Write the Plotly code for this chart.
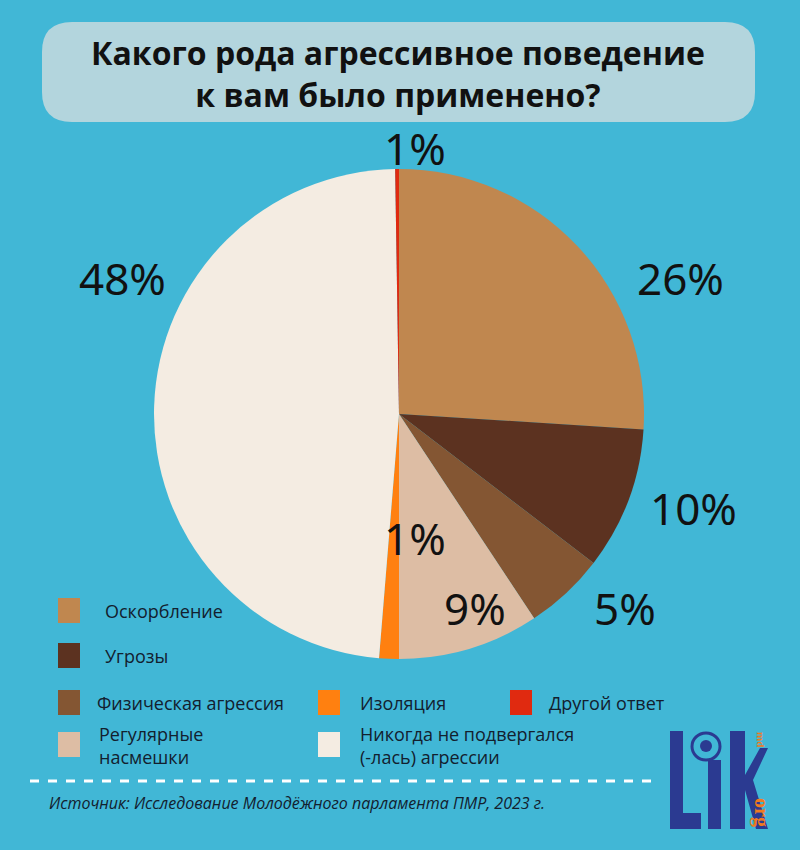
import plotly.graph_objects as go

# ---- data ----
categories = ["Оскорбление", "Угрозы", "Физическая агрессия", "Регулярные насмешки",
              "Изоляция", "Никогда не подвергался (-лась) агрессии", "Другой ответ"]
values = [26.0, 9.4, 5.3, 9.3, 1.3, 48.45, 0.25]
pct_labels = ["26%", "10%", "5%", "9%", "1%", "48%", "1%"]
colors = ["#C0874F", "#5C3220", "#845633", "#DDBDA4", "#FF8010", "#F4ECE2", "#E02A10"]

legend_texts = ["Оскорбление", "Угрозы", "Физическая агрессия", "Регулярные<br>насмешки",
                "Изоляция", "Никогда не подвергался<br>(-лась) агрессии", "Другой ответ"]

W, H = 800, 850
BG = "#41B7D6"

def px(x, y):
    return x / W, 1 - y / H

fig = go.Figure()
cx, cy, r = 399, 414, 245
x0, y1 = px(cx - r, cy - r)
x1, y0 = px(cx + r, cy + r)
fig.add_trace(go.Pie(
    labels=categories, values=values, sort=False, direction="clockwise", rotation=0,
    marker=dict(colors=colors, line=dict(width=0)),
    textinfo="none", hoverinfo="label+percent", showlegend=False,
    domain=dict(x=[x0, x1], y=[y0, y1]),
))

shapes = []
annotations = []

def P(x, y):
    a, b = px(x, y)
    return f"{a:.5f},{b:.5f}"

def rect(xa, ya, xb, yb, col):
    a0, b1 = px(xa, ya)
    a1, b0 = px(xb, yb)
    shapes.append(dict(type="rect", xref="paper", yref="paper", x0=a0, x1=a1, y0=b0, y1=b1,
                       fillcolor=col, line=dict(width=0)))

# title box (rounded)
bx0, bx1, by0, by1, rad = 42, 755, 22, 122, 30
path = (f"M {P(bx0+rad, by0)} L {P(bx1-rad, by0)} Q {P(bx1, by0)} {P(bx1, by0+rad)} "
        f"L {P(bx1, by1-rad)} Q {P(bx1, by1)} {P(bx1-rad, by1)} "
        f"L {P(bx0+rad, by1)} Q {P(bx0, by1)} {P(bx0, by1-rad)} "
        f"L {P(bx0, by0+rad)} Q {P(bx0, by0)} {P(bx0+rad, by0)} Z")
shapes.append(dict(type="path", xref="paper", yref="paper", path=path,
                   fillcolor="#B3D5DD", line=dict(width=0), layer="below"))
tx, ty = px(398, 74)
annotations.append(dict(x=tx, y=ty, xref="paper", yref="paper", showarrow=False,
                        text="<b>Какого рода агрессивное поведение<br>к вам было применено?</b>",
                        font=dict(family="Open Sans", size=32, color="#111111"),
                        align="center", xanchor="center", yanchor="middle"))

# percent labels
label_pos = [(680, 278), (693, 508), (625, 608), (475, 608), (415, 538), (122, 278), (415, 148)]
for lab, (lx, ly) in zip(pct_labels, label_pos):
    ax_, ay_ = px(lx, ly)
    annotations.append(dict(x=ax_, y=ay_, xref="paper", yref="paper", showarrow=False,
                            text=lab, font=dict(family="Noto Sans", size=44, color="#111111"),
                            xanchor="center", yanchor="middle"))

# custom legend
leg_pos = [(58, 610, 103), (58, 655, 103), (58, 702, 95), (58, 744, 97),
           (318, 702, 358), (318, 744, 358), (510, 702, 547)]
for txt, col, (sx, sy, tx_) in zip(legend_texts, colors, leg_pos):
    rect(sx, sy - 12, sx + 22, sy + 13, col)
    lx_, ly_ = px(tx_, sy + 1)
    annotations.append(dict(x=lx_, y=ly_, xref="paper", yref="paper", showarrow=False,
                            text=txt, font=dict(family="Open Sans", size=18, color="#13202E"),
                            align="left", xanchor="left", yanchor="middle"))

# dashed separator
d0x, d0y = px(30, 781)
d1x, _ = px(652, 781)
shapes.append(dict(type="line", xref="paper", yref="paper", x0=d0x, x1=d1x, y0=d0y, y1=d0y,
                   line=dict(color="white", width=3, dash="dash")))

sx_, sy_ = px(47, 803)
annotations.append(dict(x=sx_, y=sy_, xref="paper", yref="paper", showarrow=False,
                        text="<i>Источник: Исследование Молодёжного парламента ПМР, 2023 г.</i>",
                        font=dict(family="Open Sans", size=16, color="#13202E"),
                        xanchor="left", yanchor="middle"))

# logo (decorative, drawn with shapes)
LB = "#2B3A91"
OR = "#F07A20"
rect(670, 731, 683, 829, LB)        # L stem
rect(670, 813, 701, 829, LB)        # L foot
rect(708, 760, 721, 829, LB)        # i stem
rect(730, 731, 745, 829, LB)        # K stem
shapes.append(dict(type="path", xref="paper", yref="paper",
                   path=f"M {P(745, 775)} L {P(760, 748)} L {P(768, 748)} L {P(753, 780)} "
                        f"L {P(768, 829)} L {P(756, 829)} L {P(745, 790)} Z",
                   fillcolor=LB, line=dict(width=0)))
c0x, c0y = px(692, 733)
c1x, c1y = px(720, 760)
shapes.append(dict(type="circle", xref="paper", yref="paper", x0=c0x, x1=c1x, y0=c1y, y1=c0y,
                   fillcolor="rgba(0,0,0,0)", line=dict(color=LB, width=3)))
e0x, e0y = px(700, 740)
e1x, e1y = px(712, 752)
shapes.append(dict(type="circle", xref="paper", yref="paper", x0=e0x, x1=e1x, y0=e1y, y1=e0y,
                   fillcolor=LB, line=dict(width=0)))
ogx, ogy = px(762, 812)
annotations.append(dict(x=ogx, y=ogy, xref="paper", yref="paper", showarrow=False,
                        text="<b>org</b>", textangle=90,
                        font=dict(family="Liberation Sans Narrow", size=20, color=OR),
                        xanchor="center", yanchor="middle"))
mdx, mdy = px(761, 739)
annotations.append(dict(x=mdx, y=mdy, xref="paper", yref="paper", showarrow=False,
                        text="<b>md</b>", textangle=90,
                        font=dict(family="Liberation Sans Narrow", size=11, color=OR),
                        xanchor="center", yanchor="middle"))

fig.update_layout(width=W, height=H, margin=dict(l=0, r=0, t=0, b=0),
                  paper_bgcolor=BG, plot_bgcolor=BG,
                  shapes=shapes, annotations=annotations)
fig.write_html("out.html", config={"displayModeBar": False},
               post_script="document.body.style.margin='0';document.body.style.overflow='hidden';")
